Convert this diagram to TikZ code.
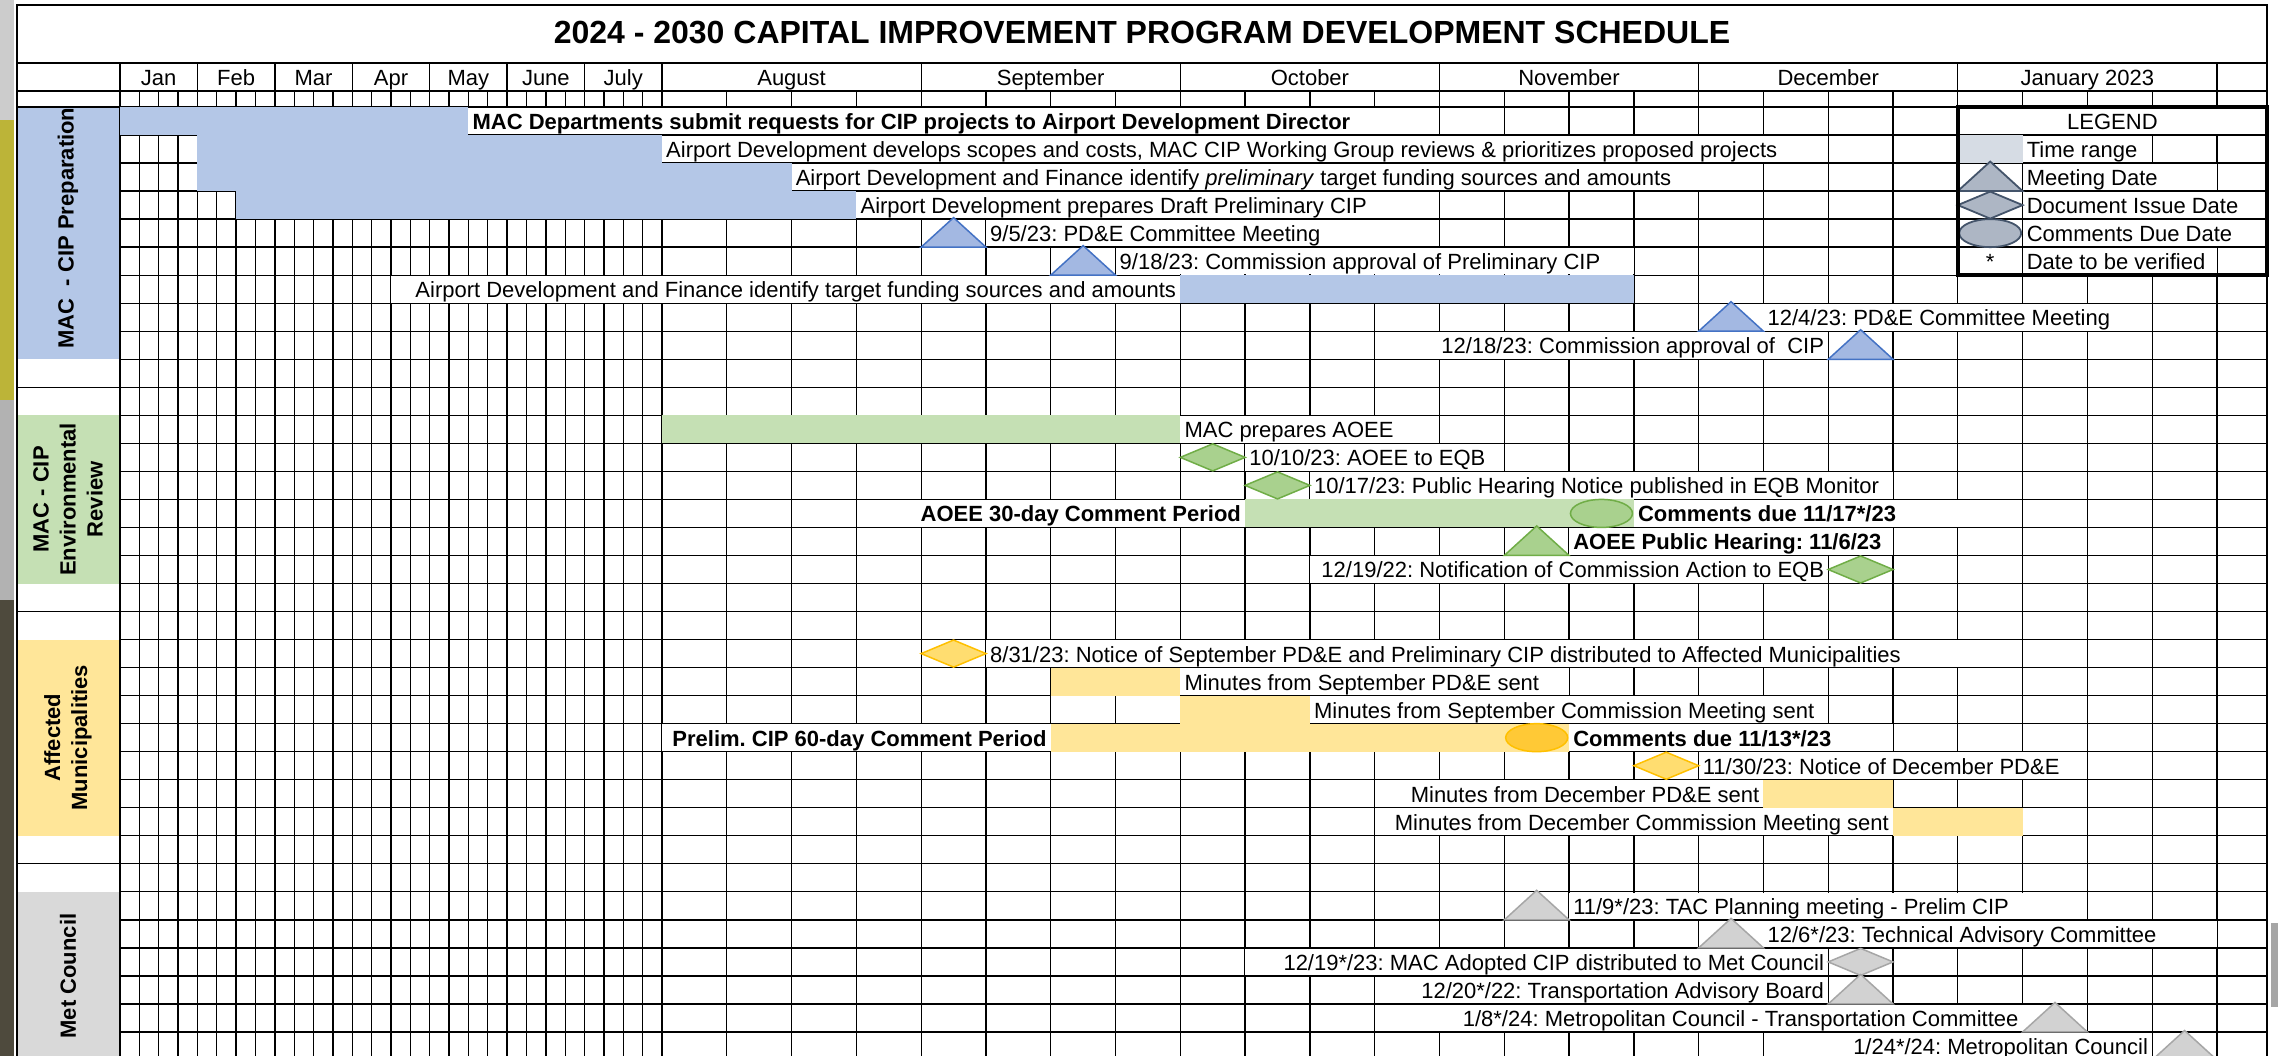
\documentclass[tikz,border=0pt]{standalone}
\usepackage{fontspec}
\setmainfont{Liberation Sans}
\usetikzlibrary{positioning}
\frenchspacing

\definecolor{prepblue}{HTML}{B4C7E7}
\definecolor{envgreen}{HTML}{C5E0B4}
\definecolor{munyellow}{HTML}{FFE699}
\definecolor{metgrey}{HTML}{D9D9D9}
\definecolor{rangegrey}{HTML}{D6DCE4}
\definecolor{mkblue}{HTML}{A3B8E2}
\definecolor{mkblueline}{HTML}{4472C4}
\definecolor{mkgreen}{HTML}{A9D18E}
\definecolor{mkgreenline}{HTML}{70AD47}
\definecolor{mkyellow}{HTML}{FFDD70}
\definecolor{mkyellowline}{HTML}{FFC000}
\definecolor{mkorange}{HTML}{FFC936}
\definecolor{mkgrey}{HTML}{D2D2D2}
\definecolor{mkgreyline}{HTML}{A6A6A6}
\definecolor{mklegend}{HTML}{ADB6C4}
\definecolor{mklegendline}{HTML}{44546A}

\newcommand{\meet}[3]{\filldraw[#1] ({wx(#2)},{ry(#3+1)}) -- ({wx(#2+1)},{ry(#3+1)}) -- ({wx(#2+0.5)},{ry(#3)-1.5}) -- cycle;}
\newcommand{\issue}[3]{\filldraw[#1] ({wx(#2)},{ry(#3+0.5)}) -- ({wx(#2+0.5)},{ry(#3)+0.5}) -- ({wx(#2+1)},{ry(#3+0.5)}) -- ({wx(#2+0.5)},{ry(#3+1)-0.5}) -- cycle;}
\newcommand{\due}[3]{\filldraw[#1] ({wx(#2+0.5)},{ry(#3+0.5)}) ellipse [x radius=31, y radius=14];}
\newcommand{\lnote}[5]{\fill[white] ({#3},{ry(#2)+0.7}) rectangle ({#4},{ry(#2+1)-0.7});
  \node[lt] (#1) at ({#3+4},{ry(#2)+22.5}) {#5};}
\newcommand{\rnote}[5]{\fill[white] ({#3},{ry(#2)+0.7}) rectangle ({#4},{ry(#2+1)-0.7});
  \node[rt] (#1) at ({#4-4},{ry(#2)+22.5}) {#5};}

\begin{document}
\begin{tikzpicture}[x=1pt, y=-1pt,
  declare function={wx(\a)=662+64.79*\a; ex(\a)=120+19.357*\a; ry(\a)=107+28.03*\a;}]

  \tikzstyle{grid} = [line width=1.3pt]
  \tikzstyle{txt} = [font=\fontsize{22}{26}\selectfont, inner sep=0pt]
  \tikzstyle{lt} = [txt, anchor=base west]
  \tikzstyle{rt} = [txt, anchor=base east]
  \tikzstyle{sec} = [font=\fontsize{22}{27}\selectfont\bfseries, align=center, rotate=90, inner sep=0pt]
  \tikzstyle{bluemk} = [fill=mkblue, draw=mkblueline, line width=1.5pt]
  \tikzstyle{greenmk} = [fill=mkgreen, draw=mkgreenline, line width=1.5pt]
  \tikzstyle{yellowmk} = [fill=mkyellow, draw=mkyellowline, line width=1.5pt]
  \tikzstyle{orangemk} = [fill=mkorange, draw=mkyellowline, line width=1.5pt]
  \tikzstyle{greymk} = [fill=mkgrey, draw=mkgreyline, line width=1.5pt]
  \tikzstyle{legmk} = [fill=mklegend, draw=mklegendline, line width=1.8pt]

  \useasboundingbox (0,0) rectangle (2278,1056);
  \clip (0,0) rectangle (2278,1056);
  \fill[white] (0,0) rectangle (2278,1056);

  % screen background at the edges
  \fill[black!20] (0,0) rectangle (14,120);
  \fill[yellow!70!black] (0,120) rectangle (14,400);
  \fill[black!30] (0,400) rectangle (14,600);
  \fill[black!80!yellow] (0,600) rectangle (14,1056);
  \fill[black!35] (2271,923) rectangle (2278,1007);

  % section columns
  \fill[prepblue] (17,{ry(0)}) rectangle (120,{ry(9)});
  \fill[envgreen] (17,{ry(11)}) rectangle (120,{ry(17)});
  \fill[munyellow] (17,{ry(19)}) rectangle (120,{ry(26)});
  \fill[metgrey] (17,{ry(28)}) rectangle (120,1056);

  % grid
  \foreach \k in {0,...,28} {
    \pgfmathsetmacro{\yy}{ifthenelse(mod(\k,4)==0,63,91)}
    \draw[grid] ({ex(\k)},\yy) -- ({ex(\k)},1056);
  }
  \foreach \w in {0,...,24} {
    \pgfmathsetmacro{\yy}{ifthenelse(mod(\w,4)==0,63,91)}
    \draw[grid] ({wx(\w)},\yy) -- ({wx(\w)},1056);
  }
  \foreach \r in {0,...,34}
    \draw[grid] (120,{ry(\r)}) -- (2267,{ry(\r)});
  \foreach \r in {10,18,27}
    \draw[grid] (17,{ry(\r)}) -- (120,{ry(\r)});
  \draw[grid] (17,91) -- (2267,91);
  \draw[grid] (17,107) -- (2267,107);
  \draw[line width=1.6pt] (17,63) -- (2267,63);
  \draw[grid] (17,1056) -- (17,5) -- (2267,5) -- (2267,1056);

  % time ranges
  \fill[prepblue] (120,{ry(0)}) rectangle ({ex(18)},{ry(1)});
  \fill[prepblue] ({ex(4)},{ry(1)}) rectangle ({wx(0)},{ry(2)});
  \fill[prepblue] ({ex(4)},{ry(2)}) rectangle ({wx(2)},{ry(3)});
  \fill[prepblue] ({ex(6)},{ry(3)}) rectangle ({wx(3)},{ry(4)});
  \fill[prepblue] ({wx(8)},{ry(6)}) rectangle ({wx(15)},{ry(7)});
  \fill[envgreen] ({wx(0)},{ry(11)}) rectangle ({wx(8)},{ry(12)});
  \fill[envgreen] ({wx(9)},{ry(14)}) rectangle ({wx(15)},{ry(15)});
  \fill[munyellow] ({wx(6)},{ry(20)}) rectangle ({wx(8)},{ry(21)});
  \fill[munyellow] ({wx(8)},{ry(21)}) rectangle ({wx(10)},{ry(22)});
  \fill[munyellow] ({wx(6)},{ry(22)}) rectangle ({wx(14)},{ry(23)});
  \fill[munyellow] ({wx(17)},{ry(24)}) rectangle ({wx(19)},{ry(25)});
  \fill[munyellow] ({wx(19)},{ry(25)}) rectangle ({wx(21)},{ry(26)});

  % title and months
  \node[font=\fontsize{32}{38}\selectfont\bfseries, inner sep=0pt, anchor=base] (title) at (1142,44)
    {2024 - 2030 CAPITAL IMPROVEMENT PROGRAM DEVELOPMENT SCHEDULE};
  \foreach \m [count=\i from 0] in {Jan,Feb,Mar,Apr,May,June,July}
    \node[txt, anchor=base] (m\i) at ({ex(4*\i+2)},86) {\m};
  \foreach \m [count=\i from 0] in {August,September,October,November,December,January 2023}
    \node[txt, anchor=base] (n\i) at ({wx(4*\i+2)},86) {\m};

  % section names
  \node[sec] (prep) at (68,228) {MAC\ \ - CIP Preparation};
  \node[sec] (env) at (68,{ry(14)}) {MAC - CIP\\Environmental\\Review};
  \node[sec] (mun) at (68,{ry(22.5)}) {Affected\\Municipalities};
  \node[sec] (met) at (68,976) {Met Council};

  % MAC - CIP preparation
  \lnote{p0}{0}{ex(18)}{wx(11)}{\textbf{MAC Departments submit requests for CIP projects to Airport Development Director}}
  \lnote{p1}{1}{wx(0)}{wx(18)}{Airport Development develops scopes and costs, MAC CIP Working Group reviews \& prioritizes proposed projects}
  \lnote{p2}{2}{wx(2)}{wx(16)}{Airport Development and Finance identify \textit{preliminary} target funding sources and amounts}
  \lnote{p3}{3}{wx(3)}{wx(11)}{Airport Development prepares Draft Preliminary CIP}
  \lnote{p4}{4}{wx(5)}{wx(11)}{9/5/23: PD\&E Committee Meeting}
  \lnote{p5}{5}{wx(7)}{wx(15)}{9/18/23: Commission approval of Preliminary CIP}
  \rnote{p6}{6}{ex(14)}{wx(8)}{Airport Development and Finance identify target funding sources and amounts}
  \lnote{p7}{7}{wx(17)}{wx(23)}{12/4/23: PD\&E Committee Meeting}
  \rnote{p8}{8}{wx(12)}{wx(18)}{12/18/23: Commission approval of~ CIP}
  \meet{bluemk}{4}{4}
  \meet{bluemk}{6}{5}
  \meet{bluemk}{16}{7}
  \meet{bluemk}{18}{8}

  % MAC - CIP environmental review
  \lnote{e0}{11}{wx(8)}{wx(12)}{MAC prepares AOEE}
  \lnote{e1}{12}{wx(9)}{wx(13)}{10/10/23: AOEE to EQB}
  \lnote{e2}{13}{wx(10)}{wx(19)}{10/17/23: Public Hearing Notice published in EQB Monitor}
  \rnote{e3}{14}{wx(4)}{wx(9)}{\textbf{AOEE 30-day Comment Period}}
  \lnote{e4}{14}{wx(15)}{wx(20)}{\textbf{Comments due 11/17*/23}}
  \lnote{e5}{15}{wx(14)}{wx(19)}{\textbf{AOEE Public Hearing: 11/6/23}}
  \rnote{e6}{16}{wx(10)}{wx(18)}{12/19/22: Notification of Commission Action to EQB}
  \issue{greenmk}{8}{12}
  \issue{greenmk}{9}{13}
  \due{greenmk}{14}{14}
  \meet{greenmk}{13}{15}
  \issue{greenmk}{18}{16}

  % affected municipalities
  \lnote{a0}{19}{wx(5)}{wx(20)}{8/31/23: Notice of September PD\&E and Preliminary CIP distributed to Affected Municipalities}
  \lnote{a1}{20}{wx(8)}{wx(14)}{Minutes from September PD\&E sent}
  \lnote{a2}{21}{wx(10)}{wx(18)}{Minutes from September Commission Meeting sent}
  \rnote{a3}{22}{wx(0)}{wx(6)}{\textbf{Prelim. CIP 60-day Comment Period}}
  \lnote{a4}{22}{wx(14)}{wx(19)}{\textbf{Comments due 11/13*/23}}
  \lnote{a5}{23}{wx(16)}{wx(22)}{11/30/23: Notice of December PD\&E}
  \rnote{a6}{24}{wx(11)}{wx(17)}{Minutes from December PD\&E sent}
  \rnote{a7}{25}{wx(11)}{wx(19)}{Minutes from December Commission Meeting sent}
  \issue{yellowmk}{4}{19}
  \due{orangemk}{13}{22}
  \issue{yellowmk}{15}{23}

  % Met Council
  \lnote{c0}{28}{wx(14)}{wx(21)}{11/9*/23: TAC Planning meeting - Prelim CIP}
  \lnote{c1}{29}{wx(17)}{wx(24)}{12/6*/23: Technical Advisory Committee}
  \rnote{c2}{30}{wx(9)}{wx(18)}{12/19*/23: MAC Adopted CIP distributed to Met Council}
  \rnote{c3}{31}{wx(11)}{wx(18)}{12/20*/22: Transportation Advisory Board}
  \rnote{c4}{32}{wx(12)}{wx(21)}{1/8*/24: Metropolitan Council - Transportation Committee}
  \rnote{c5}{33}{wx(18)}{wx(23)}{1/24*/24: Metropolitan Council}
  \meet{greymk}{13}{28}
  \meet{greymk}{16}{29}
  \issue{greymk}{18}{30}
  \meet{greymk}{18}{31}
  \meet{greymk}{21}{32}
  \meet{greymk}{23}{33}

  % legend
  \fill[white] ({wx(20)},{ry(0)+0.7}) rectangle (2267,{ry(1)-0.7});
  \node[txt, anchor=base] (legend) at ({(wx(20)+2267)/2},{ry(0)+22.5}) {LEGEND};
  \fill[rangegrey] ({wx(20)},{ry(1)}) rectangle ({wx(21)},{ry(2)});
  \lnote{l1}{1}{wx(21)}{wx(23)}{Time range}
  \lnote{l2}{2}{wx(21)}{wx(24)}{Meeting Date}
  \lnote{l3}{3}{wx(21)}{2267}{Document Issue Date}
  \lnote{l4}{4}{wx(21)}{2267}{Comments Due Date}
  \lnote{l5}{5}{wx(21)}{wx(24)}{Date to be verified}
  \meet{legmk}{20}{2}
  \issue{legmk}{20}{3}
  \due{legmk}{20}{4}
  \node[txt, anchor=base] (star) at ({wx(20.5)},{ry(5)+22.5}) {*};
  \draw[line width=3.5pt] ({wx(20)},{ry(0)}) rectangle (2267,{ry(6)});
\end{tikzpicture}
\end{document}
